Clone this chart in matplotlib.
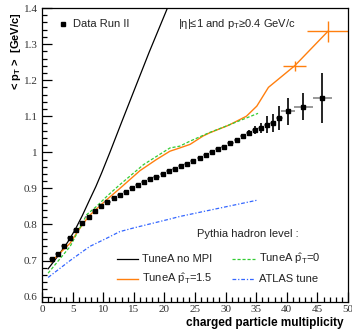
import numpy as np
import matplotlib
matplotlib.use('Agg')
import matplotlib.pyplot as plt
from matplotlib.ticker import MultipleLocator

plt.rcParams['mathtext.fontset'] = 'custom'
plt.rcParams['mathtext.rm'] = 'Liberation Sans'
plt.rcParams['mathtext.it'] = 'Liberation Sans:italic'
plt.rcParams['mathtext.bf'] = 'Liberation Sans:bold'

# data run II : <pT> vs charged multiplicity
data_x = [1.6, 2.6, 3.6, 4.6, 5.6, 6.6, 7.6, 8.6, 9.6, 10.7, 11.7, 12.7, 13.7,
          14.7, 15.7, 16.7, 17.7, 18.7, 19.7, 20.7, 21.7, 22.7, 23.7, 24.7,
          25.8, 26.8, 27.8, 28.8, 29.8, 30.8, 31.8, 32.8, 33.8, 34.8, 35.8,
          36.8, 37.8, 38.8]
data_y = [0.703, 0.717, 0.739, 0.763, 0.785, 0.805, 0.822, 0.837, 0.850, 0.862,
          0.872, 0.882, 0.891, 0.900, 0.909, 0.917, 0.925, 0.932, 0.940, 0.947,
          0.954, 0.961, 0.968, 0.976, 0.984, 0.992, 1.000, 1.008, 1.016, 1.025,
          1.034, 1.045, 1.053, 1.061, 1.068, 1.077, 1.082, 1.095]
data_yerr = [0.003] * 30 + [0.004, 0.005, 0.008, 0.011, 0.014, 0.023, 0.025, 0.032]

# wide bins at high multiplicity
wide_x = [40.2, 42.7, 45.8]
wide_xerr = [1.1, 1.5, 1.6]
wide_y = [1.114, 1.126, 1.150]
wide_yerr = [0.037, 0.037, 0.069]

# pythia curves
nompi_x = [1.0, 2.0, 3.0, 4.2, 5.4, 6.6, 7.8, 8.8, 9.75, 11.1, 13.0, 14.9, 17.5, 20.5, 21.2]
nompi_y = [0.677, 0.699, 0.722, 0.751, 0.785, 0.825, 0.869, 0.905, 0.943, 1.000,
           1.083, 1.165, 1.277, 1.40, 1.43]

pt15_x = [1.5, 3.0, 4.6, 6.0, 7.6, 8.9, 10.6, 12.6, 16.0, 18.7, 20.9, 22.5,
          24.2, 26.3, 27.4, 30.5, 33.4, 35.1, 37.0, 41.3, 46.7]
pt15_y = [0.696, 0.722, 0.748, 0.785, 0.822, 0.843, 0.869, 0.898, 0.949, 0.980,
          1.003, 1.012, 1.022, 1.045, 1.054, 1.075, 1.100, 1.128, 1.180, 1.240,
          1.335]
pt15_mx = [41.3, 46.7]
pt15_my = [1.240, 1.335]
pt15_mxerr = [1.9, 3.4]
pt15_myerr = [0.014, 0.029]

pt0_x = [1.0, 4.6, 7.3, 8.9, 10.6, 12.5, 16.6, 20.9, 22.5, 24.2, 27.4, 30.0, 35.3]
pt0_y = [0.665, 0.739, 0.827, 0.850, 0.878, 0.907, 0.966, 1.012, 1.017, 1.031,
         1.055, 1.072, 1.108]

atlas_x = [1.0, 4.6, 7.8, 10.6, 12.7, 14.9, 20.9, 22.5, 35.1]
atlas_y = [0.653, 0.700, 0.739, 0.762, 0.780, 0.790, 0.815, 0.822, 0.867]

orange = '#ff7f0e'
green = '#33cc33'
blue = '#3366ff'

fig = plt.figure(figsize=(3.52, 3.29), dpi=100)
ax = fig.add_axes([42 / 352, 1 - 302 / 329, 306 / 352, 294 / 329])

ax.plot(nompi_x, nompi_y, color='black', lw=0.9)
ax.plot(pt15_x, pt15_y, color=orange, lw=1.0)
ax.plot(pt0_x, pt0_y, color=green, lw=0.9, ls=(0, (2.5, 1.5)))
ax.plot(atlas_x, atlas_y, color=blue, lw=0.9, ls=(0, (3, 1.5, 1, 1.5)))

ax.errorbar(pt15_mx, pt15_my, xerr=pt15_mxerr, yerr=pt15_myerr, fmt='none',
            ecolor=orange, elinewidth=1.0, capsize=0)

# data: grey horizontal bars, black vertical bars, black squares
ax.errorbar(data_x, data_y, xerr=0.5, fmt='none', ecolor='#888888', elinewidth=1.2, capsize=0)
ax.errorbar(wide_x, wide_y, xerr=wide_xerr, fmt='none', ecolor='#888888', elinewidth=1.2, capsize=0)
ax.errorbar(data_x, data_y, yerr=data_yerr, fmt='none', ecolor='black', elinewidth=1.2, capsize=0)
ax.errorbar(wide_x, wide_y, yerr=wide_yerr, fmt='none', ecolor='black', elinewidth=1.2, capsize=0)
ax.plot(data_x + wide_x, data_y + wide_y, 's', color='black', ms=3.2, ls='none')

ax.set_xlim(0, 50)
ax.set_ylim(0.585, 1.4)
ax.xaxis.set_major_locator(MultipleLocator(5))
ax.xaxis.set_minor_locator(MultipleLocator(1))
ax.yaxis.set_minor_locator(MultipleLocator(0.02))
ax.tick_params(which='both', direction='in', top=False, right=False, width=0.9)
ax.tick_params(which='major', length=7)
ax.tick_params(which='minor', length=3.5)
ax.set_yticks([0.6, 0.7, 0.8, 0.9, 1.0, 1.1, 1.2, 1.3, 1.4])
ax.set_yticklabels(['0.6', '0.7', '0.8', '0.9', '1', '1.1', '1.2', '1.3', '1.4'])
for lab in ax.get_xticklabels() + ax.get_yticklabels():
    lab.set_fontfamily('Liberation Serif')
    lab.set_fontsize(8)
    lab.set_color('#333333')
ax.tick_params(axis='x', pad=2)
ax.tick_params(axis='y', pad=3)
for s in ax.spines.values():
    s.set_linewidth(0.9)

# labels
fig.text(16 / 352, 1 - 12 / 329, r'< p$_{\mathbf{T}}$ >  [GeV/c]', rotation=90,
         ha='center', va='top', fontsize=8, fontweight='bold', family='Liberation Sans')
fig.text(343 / 352, 1 - 323 / 329, 'charged particle multiplicity', ha='right', va='center',
         fontsize=8.5, fontweight='bold', family='Liberation Sans')

tfont = dict(fontsize=8, family='Liberation Sans', color='#222222')
ax.plot([3.4], [1.355], 's', color='black', ms=2.5)
ax.text(5.0, 1.355, 'Data Run II', va='center', **tfont)
ax.text(22.2, 1.355, '|\u03b7|\u22641 and p$_{\\mathrm{T}}$\u22650.4 GeV/c', va='center', **tfont)
ax.text(25.3, 0.774, 'Pythia hadron level :', va='center', **tfont)

# legend by hand
ax.plot([12.2, 15.7], [0.705, 0.705], color='black', lw=0.9)
ax.text(16.4, 0.705, 'TuneA no MPI', va='center', **tfont)
ax.plot([12.2, 15.7], [0.650, 0.650], color=orange, lw=1.0)
ax.text(16.4, 0.650, r'TuneA $\hat{\mathrm{p}}_{\mathrm{T}}$=1.5', va='center', **tfont)
ax.plot([31.0, 34.8], [0.705, 0.705], color=green, lw=0.9, ls=(0, (2.5, 1.5)))
ax.text(35.5, 0.705, r'TuneA $\hat{\mathrm{p}}_{\mathrm{T}}$=0', va='center', **tfont)
ax.plot([31.0, 34.8], [0.648, 0.648], color=blue, lw=0.9, ls=(0, (3, 1.5, 1, 1.5)))
ax.text(35.5, 0.648, 'ATLAS tune', va='center', **tfont)

fig.savefig('out.png', dpi=100)
